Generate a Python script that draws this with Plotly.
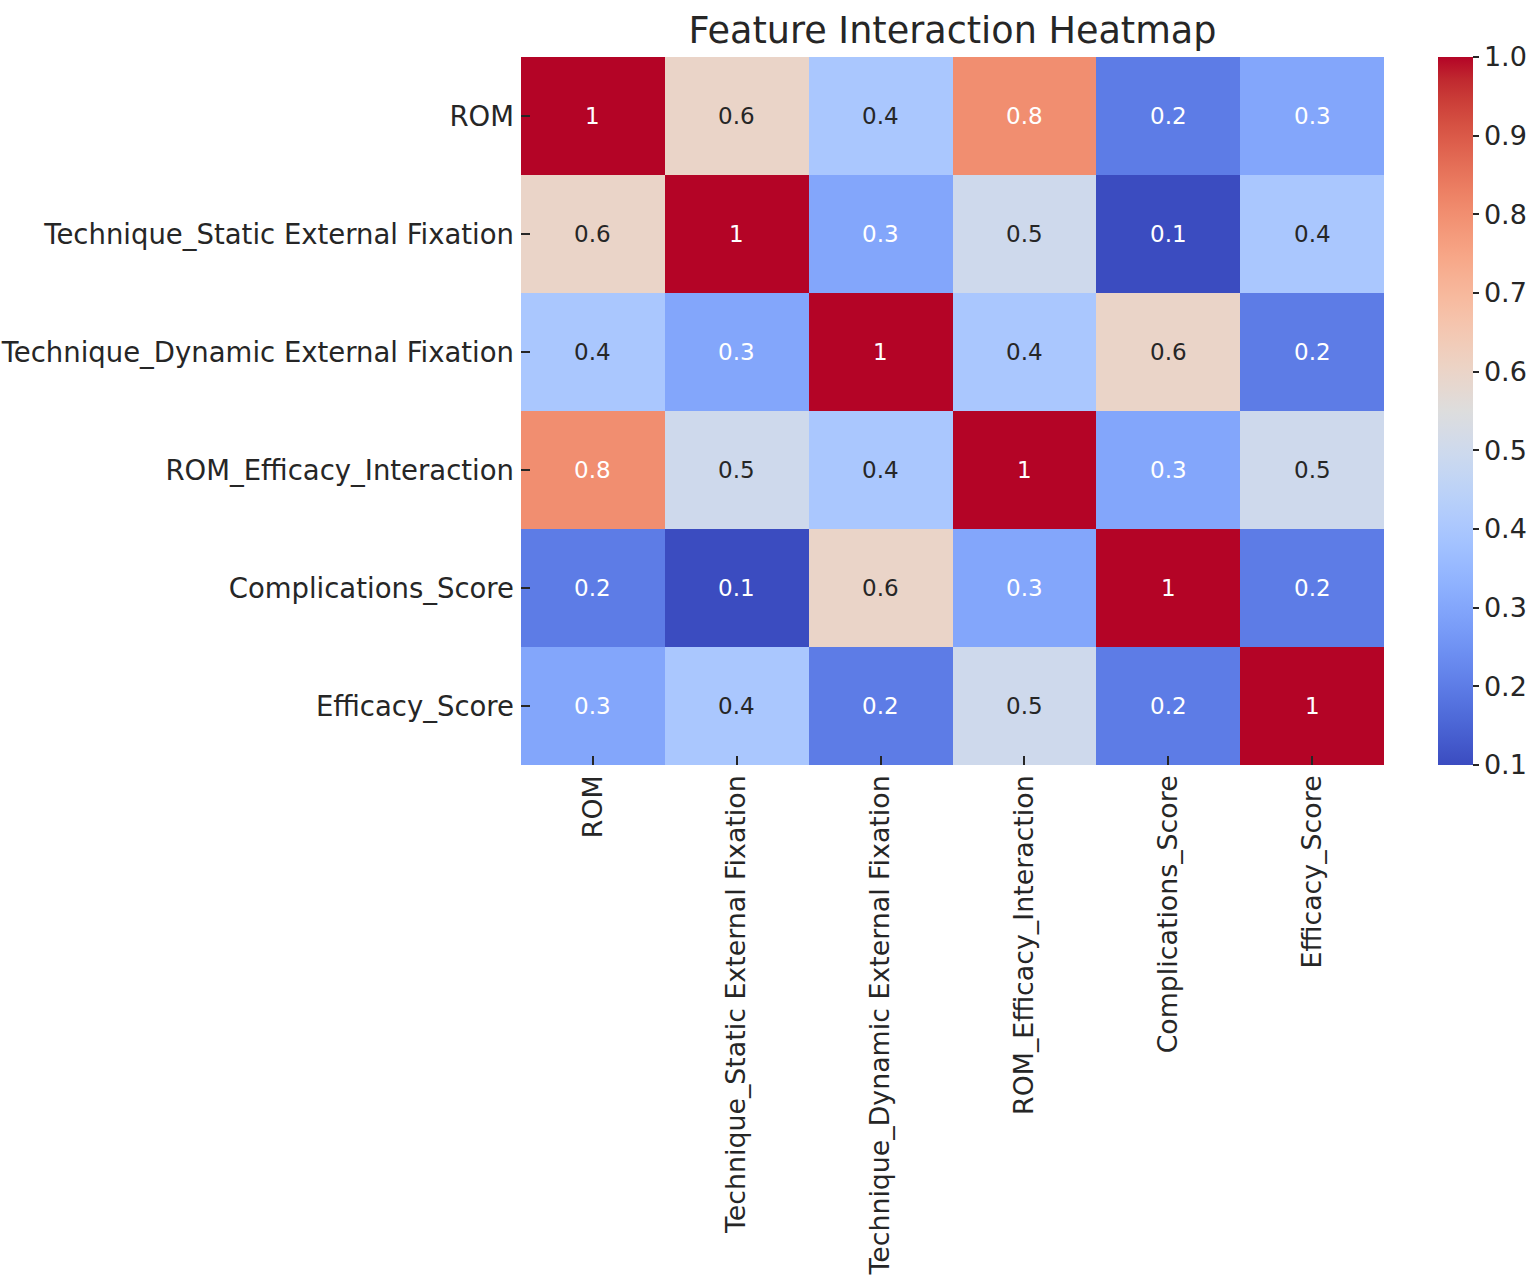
import plotly.graph_objects as go

features = [
    "ROM",
    "Technique_Static External Fixation",
    "Technique_Dynamic External Fixation",
    "ROM_Efficacy_Interaction",
    "Complications_Score",
    "Efficacy_Score",
]

rom = [1, 0.6, 0.4, 0.8, 0.2, 0.3]
static_fix = [0.6, 1, 0.3, 0.5, 0.1, 0.4]
dynamic_fix = [0.4, 0.3, 1, 0.4, 0.6, 0.2]
rom_efficacy = [0.8, 0.5, 0.4, 1, 0.3, 0.5]
complications = [0.2, 0.1, 0.6, 0.3, 1, 0.2]
efficacy = [0.3, 0.4, 0.2, 0.5, 0.2, 1]

matrix = [rom, static_fix, dynamic_fix, rom_efficacy, complications, efficacy]

colorbar_ticks = [0.1, 0.2, 0.3, 0.4, 0.5, 0.6, 0.7, 0.8, 0.9, 1.0]

# matplotlib "coolwarm" (Moreland diverging map)
coolwarm_rgb = [
    (59, 76, 192), (68, 90, 204), (77, 104, 215), (87, 117, 225),
    (98, 130, 234), (108, 142, 241), (119, 154, 247), (130, 165, 251),
    (141, 176, 254), (152, 185, 255), (163, 194, 255), (174, 201, 253),
    (184, 208, 249), (194, 213, 244), (204, 217, 238), (213, 219, 230),
    (221, 221, 221), (229, 216, 209), (236, 211, 197), (241, 204, 185),
    (245, 196, 173), (247, 187, 160), (247, 177, 148), (247, 166, 135),
    (244, 154, 123), (241, 141, 111), (236, 127, 99), (229, 112, 88),
    (222, 96, 77), (213, 80, 66), (203, 62, 56), (192, 40, 47),
    (180, 4, 38),
]
n = len(coolwarm_rgb) - 1
coolwarm = [[i / n, "rgb(%d,%d,%d)" % c] for i, c in enumerate(coolwarm_rgb)]

zmin, zmax = 0.1, 1.0
font = "DejaVu Sans"
dark = "#262626"

# plot box in pixels
left, right, top, bottom = 521, 1384, 57, 765
W, H = 1534, 1287

fig = go.Figure(
    go.Heatmap(
        z=matrix,
        x=features,
        y=features,
        zmin=zmin,
        zmax=zmax,
        colorscale=coolwarm,
        colorbar=dict(
            x=(1438 - left) / (right - left),
            xanchor="left",
            y=0.5,
            yanchor="middle",
            len=1.0,
            lenmode="fraction",
            xpad=0,
            ypad=0,
            thickness=35,
            outlinewidth=0,
            tickvals=colorbar_ticks,
            ticktext=["%.1f" % t for t in colorbar_ticks],
            ticks="outside",
            ticklen=6,
            tickwidth=2,
            tickcolor=dark,
            tickfont=dict(family=font, size=27, color=dark),
        ),
    )
)

# cell labels, white on saturated cells and dark on light ones (like seaborn)
for i, row in enumerate(matrix):
    for j, v in enumerate(row):
        txt_color = "white" if (v >= 0.75 or v <= 0.3) else dark
        fig.add_annotation(
            x=features[j],
            y=features[i],
            text="%g" % v,
            showarrow=False,
            font=dict(family=font, size=23, color=txt_color),
        )

fig.update_layout(
    width=W,
    height=H,
    margin=dict(l=left, r=W - right, t=top, b=H - bottom, autoexpand=False),
    paper_bgcolor="white",
    plot_bgcolor="white",
    font=dict(family=font, color=dark),
    title=dict(
        text="Feature Interaction Heatmap",
        x=(left + right) / 2 / W,
        xanchor="center",
        y=1 - 30 / H,
        yanchor="middle",
        font=dict(family=font, size=36.6, color=dark),
    ),
)

fig.update_xaxes(
    tickangle=-90,
    tickfont=dict(family=font, size=26.8, color=dark),
    ticks="inside",
    ticklen=9,
    tickwidth=2,
    tickcolor=dark,
    ticklabelstandoff=4,
    showgrid=False,
    zeroline=False,
    showline=False,
)
fig.update_yaxes(
    autorange="reversed",
    tickfont=dict(family=font, size=27.5, color=dark),
    ticks="inside",
    ticklen=9,
    tickwidth=2,
    tickcolor=dark,
    ticklabelstandoff=6,
    showgrid=False,
    zeroline=False,
    showline=False,
)

# drop the browser's default 8px body margin so the figure fills the window
fig.write_html(
    "out.html",
    config={"displayModeBar": False},
    post_script="document.body.style.margin = '0';",
)
